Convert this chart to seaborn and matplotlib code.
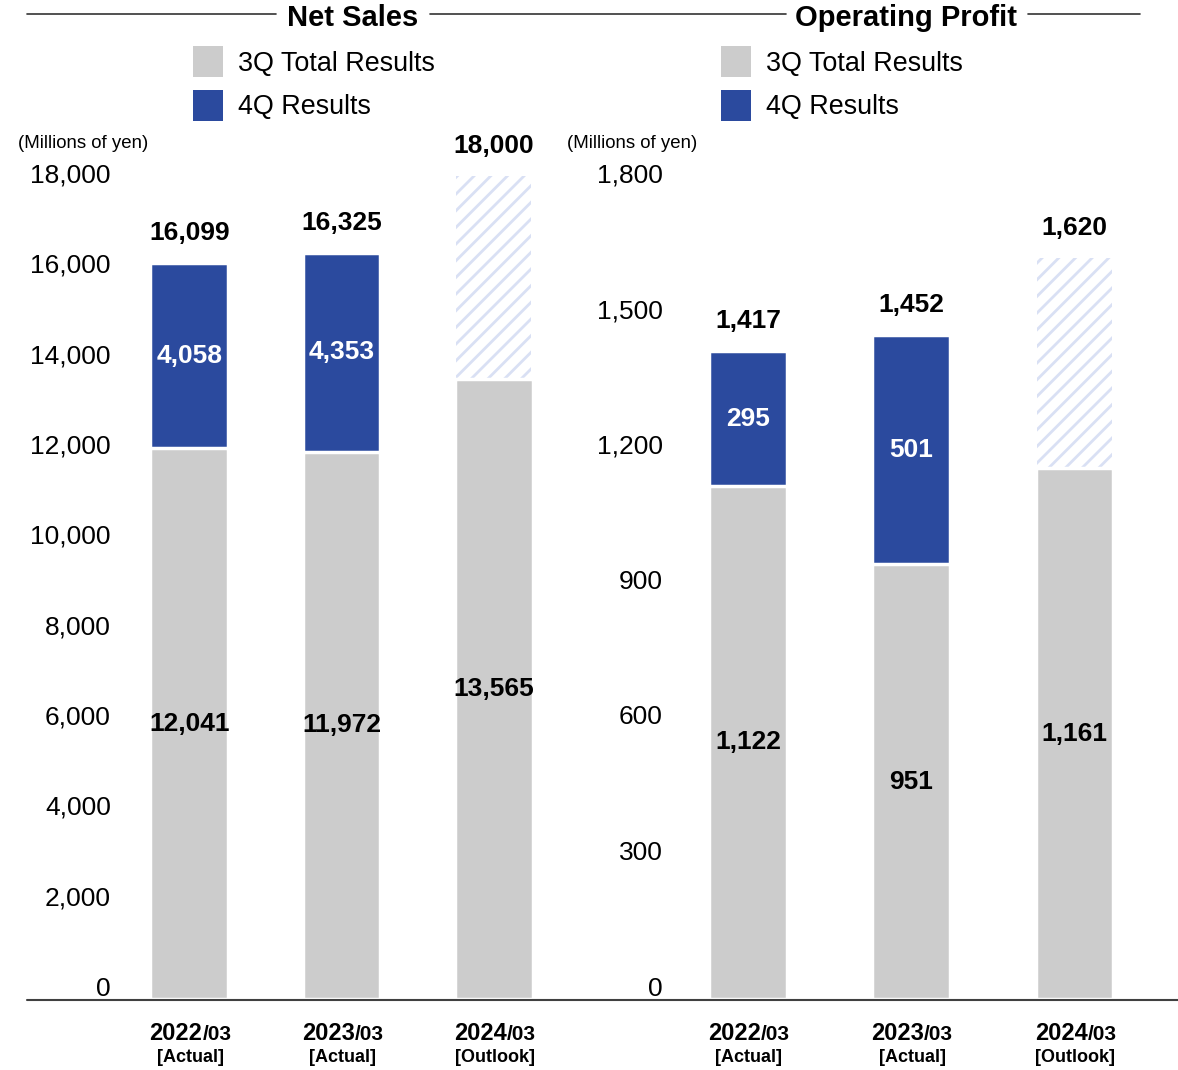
import numpy as np
import pandas as pd
import seaborn as sns
import matplotlib.pyplot as plt
import matplotlib.transforms as mtransforms
from matplotlib.lines import Line2D
from matplotlib.patches import Patch

years = ["2022/03", "2023/03", "2024/03"]
kinds = ["[Actual]", "[Actual]", "[Outlook]"]

sales_3q = [12041, 11972, 13565]
sales_4q = [4058, 4353, None]
sales_total = [16099, 16325, 18000]

profit_3q = [1122, 951, 1161]
profit_4q = [295, 501, None]
profit_total = [1417, 1452, 1620]

GRAY = "#cccccc"
BLUE = "#2b4a9e"
HATCH = "#d9e0f4"

sns.set_theme(style="white")
plt.rcParams['font.family'] = ['Liberation Sans', 'DejaVu Sans']
plt.rcParams['hatch.linewidth'] = 2.0
for k in ("text.color", "axes.labelcolor", "xtick.color", "ytick.color"):
    plt.rcParams[k] = "black"

W, H = 1178, 1070
fig = plt.figure(figsize=(W / 100, H / 100), dpi=100)


def px_axes(x0, x1, ytop, ybot):
    return fig.add_axes([x0 / W, 1 - ybot / H, (x1 - x0) / W, (ybot - ytop) / H])


def fy(y):
    return 1 - y / H


def panel(ax, q3, q4, total, ymax, step, xlim, width):
    df = pd.DataFrame({"year": years, "q3": q3, "total": total})
    # full bar first, 3Q part on top of it
    sns.barplot(data=df, x="year", y="total", color=BLUE, saturation=1,
                width=width, edgecolor="white", linewidth=2.5, ax=ax)
    out = ax.patches[2]
    shrink = width * 0.045
    out.set_x(out.get_x() + shrink / 2)
    out.set_width(out.get_width() - shrink)
    out.set_facecolor("white")
    out.set_edgecolor(HATCH)
    out.set_linewidth(0)
    out.set_hatch("//")
    sns.barplot(data=df, x="year", y="q3", color=GRAY, saturation=1,
                width=width, edgecolor="white", linewidth=2.5, ax=ax)

    ax.set_xlim(*xlim)
    ax.set_ylim(0, ymax)
    ticks = np.arange(0, ymax + 1, step)
    ax.set_yticks(ticks)
    ax.set_yticklabels([f"{v:,}" for v in ticks])
    ax.tick_params(axis="y", length=0, labelsize=19, pad=6.5)
    for v, lab in zip(ticks, ax.get_yticklabels()):
        up = 13 - 10 * v / ymax
        lab.set_transform(lab.get_transform() + mtransforms.ScaledTranslation(
            0, up / 100, fig.dpi_scale_trans))
    ax.set_xticks([])
    ax.set_xlabel("")
    ax.set_ylabel("")
    for s in ax.spines.values():
        s.set_visible(False)

    for i in range(3):
        ax.text(i, q3[i] / 2, f"{q3[i]:,}", ha="center", va="center",
                fontsize=19, fontweight="bold", color="black")
        if q4[i] is not None:
            ax.text(i, q3[i] + q4[i] / 2, f"{q4[i]:,}", ha="center", va="center",
                    fontsize=19, fontweight="bold", color="white")
        ax.annotate(f"{total[i]:,}", xy=(i, total[i]), xytext=(0, 30),
                    textcoords="offset pixels", ha="center", va="center",
                    fontsize=19, fontweight="bold", annotation_clip=False)
        yr, mo = years[i].split("/")
        ax.annotate(yr, xy=(i, 0), xycoords=("data", "axes fraction"),
                    xytext=(13, -41), textcoords="offset pixels",
                    ha="right", va="baseline", fontsize=17, fontweight="bold",
                    annotation_clip=False)
        ax.annotate("/" + mo, xy=(i, 0), xycoords=("data", "axes fraction"),
                    xytext=(13, -41), textcoords="offset pixels",
                    ha="left", va="baseline", fontsize=15, fontweight="bold",
                    annotation_clip=False)
        ax.annotate(kinds[i], xy=(i, 0), xycoords=("data", "axes fraction"),
                    xytext=(1, -58), textcoords="offset pixels",
                    ha="center", va="center", fontsize=13, fontweight="bold",
                    annotation_clip=False)


ax1 = px_axes(120, 570, 176, 999)
ax2 = px_axes(672, 1178, 176, 999)

panel(ax1, sales_3q, sales_4q, sales_total, 18000, 2000, (-0.457, 2.503), 0.513)
panel(ax2, profit_3q, profit_4q, profit_total, 1800, 300, (-0.4655, 2.6345), 0.477)

# baseline across both panels
fig.add_artist(Line2D([27 / W, 1], [fy(999.5)] * 2, color="#404040", lw=1.5))

# headers with rules
for txt, xc, segs in [("Net Sales", 353, [(27, 276), (430, 786)]),
                      ("Operating Profit", 906, [(1028, 1140)])]:
    fig.text(xc / W, fy(18), txt, ha="center", va="center",
             fontsize=21, fontweight="bold")
    for a, b in segs:
        fig.add_artist(Line2D([a / W, b / W], [fy(14)] * 2, color="#333333", lw=1.2))

for x0 in (193, 721):
    handles = [Patch(facecolor=GRAY, edgecolor="none", label="3Q Total Results"),
               Patch(facecolor=BLUE, edgecolor="none", label="4Q Results")]
    fig.legend(handles=handles, loc="upper left",
               bbox_to_anchor=(x0 / W, fy(46)), bbox_transform=fig.transFigure,
               frameon=False, fontsize=19.4, borderpad=0, borderaxespad=0,
               handlelength=1.12, handleheight=1.42, handletextpad=0.56,
               labelspacing=0.45)

fig.text(18 / W, fy(143), "(Millions of yen)", ha="left", va="center", fontsize=13.4)
fig.text(567 / W, fy(143), "(Millions of yen)", ha="left", va="center", fontsize=13.4)

fig.savefig("out.png", dpi=100)
